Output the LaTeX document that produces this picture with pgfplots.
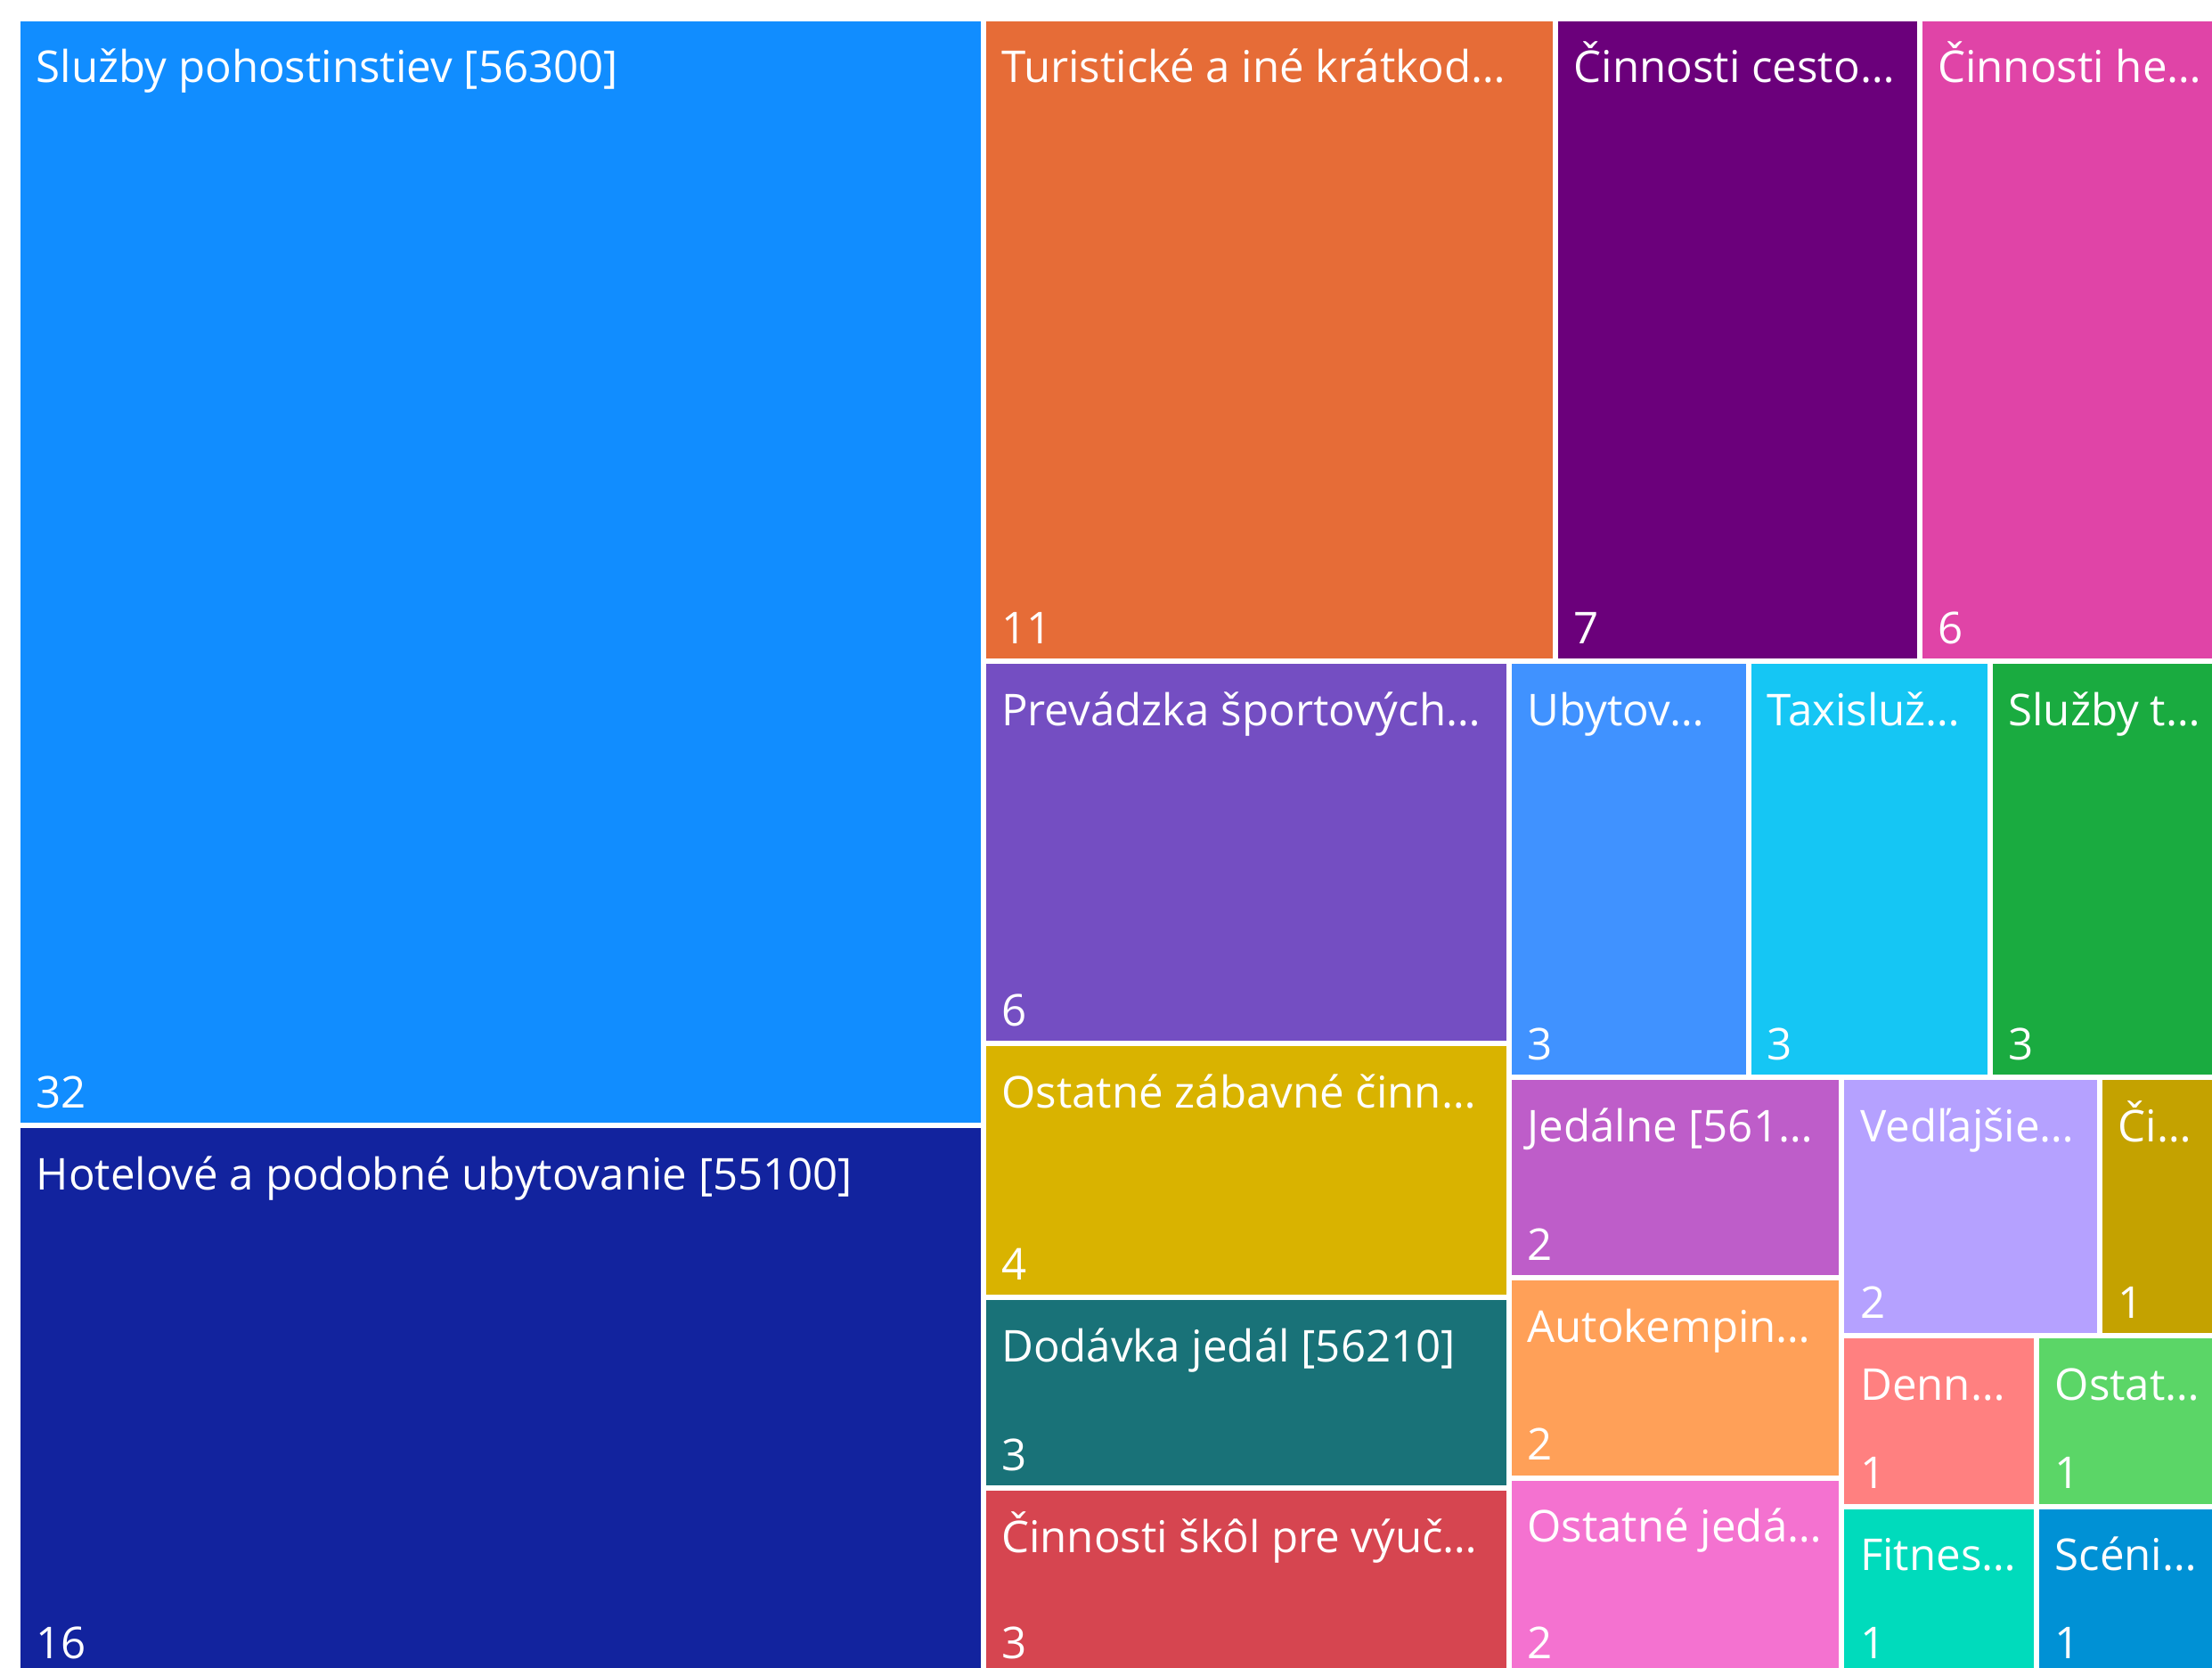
\documentclass[border=0pt]{standalone}
\usepackage{pgfplots}
\pgfplotsset{compat=1.18}
\usepackage{fontspec}
\setmainfont{Open Sans}
\definecolor{c1}{HTML}{118DFF}
\definecolor{c2}{HTML}{12239E}
\definecolor{c3}{HTML}{E66C37}
\definecolor{c4}{HTML}{6B007B}
\definecolor{c5}{HTML}{E044A7}
\definecolor{c6}{HTML}{744EC2}
\definecolor{c7}{HTML}{D9B300}
\definecolor{c8}{HTML}{197278}
\definecolor{c9}{HTML}{D64550}
\definecolor{c10}{HTML}{4092FF}
\definecolor{c11}{HTML}{15C6F4}
\definecolor{c12}{HTML}{1AAB40}
\definecolor{c13}{HTML}{BE5DC9}
\definecolor{c14}{HTML}{FFA058}
\definecolor{c15}{HTML}{F472D0}
\definecolor{c16}{HTML}{B5A1FF}
\definecolor{c17}{HTML}{C4A200}
\definecolor{c18}{HTML}{FF8080}
\definecolor{c19}{HTML}{5BD667}
\definecolor{c20}{HTML}{00DBBC}
\definecolor{c21}{HTML}{0091D5}
\tikzset{lab/.style={text=white, inner sep=0pt, font=\fontsize{14}{16}\selectfont}}
% #1 x0, #2 y0, #3 x1, #4 y1, #5 colour, #6 label, #7 value
\newcommand{\tile}[7]{%
  \addplot[fill=#5, draw=white, line width=1.71pt] coordinates {(#1,#2) (#3,#2) (#3,#4) (#1,#4)} -- cycle;
  \node[lab, anchor=base west, xshift=5.69pt, yshift=-20.48pt] at (axis cs:#1,#2) {#6};
  \node[lab, anchor=base west, xshift=5.69pt, yshift=5.69pt] at (axis cs:#1,#4) {#7};
}
\begin{document}
\begin{tikzpicture}
\begin{axis}[
  hide axis, scale only axis,
  width=706.4pt, height=532.3pt,
  xmin=0, xmax=2483, ymin=0, ymax=1871,
  y dir=reverse, clip=true,
]
\tile{20}{21}{1103.5}{1263}{c1}{Služby pohostinstiev [56300]}{32}
\tile{20}{1263}{1103.5}{1881}{c2}{Hotelové a podobné ubytovanie [55100]}{16}
\tile{1103.5}{21}{1746}{742}{c3}{Turistické a iné krátkod…}{11}
\tile{1746}{21}{2154.5}{742}{c4}{Činnosti cesto…}{7}
\tile{2154.5}{21}{2505}{742}{c5}{Činnosti he…}{6}
\tile{1103.5}{742}{1693.6}{1171}{c6}{Prevádzka športových…}{6}
\tile{1103.5}{1171}{1693.6}{1456}{c7}{Ostatné zábavné činn…}{4}
\tile{1103.5}{1456}{1693.6}{1670}{c8}{Dodávka jedál [56210]}{3}
\tile{1103.5}{1670}{1693.6}{1881}{c9}{Činnosti škôl pre výuč…}{3}
\tile{1693.6}{742}{1963}{1209}{c10}{Ubytov…}{3}
\tile{1963}{742}{2233.7}{1209}{c11}{Taxisluž…}{3}
\tile{2233.7}{742}{2505}{1209}{c12}{Služby t…}{3}
\tile{1693.6}{1209}{2067.4}{1434}{c13}{Jedálne [561…}{2}
\tile{1693.6}{1434}{2067.4}{1658.8}{c14}{Autokempin…}{2}
\tile{1693.6}{1658.8}{2067.4}{1881}{c15}{Ostatné jedá…}{2}
\tile{2067.4}{1209}{2357.2}{1499}{c16}{Vedľajšie…}{2}
\tile{2357.2}{1209}{2505}{1499}{c17}{Či…}{1}
\tile{2067.4}{1499}{2286}{1690.5}{c18}{Denn…}{1}
\tile{2286}{1499}{2505}{1690.5}{c19}{Ostat…}{1}
\tile{2067.4}{1690.5}{2286}{1881}{c20}{Fitnes…}{1}
\tile{2286}{1690.5}{2505}{1881}{c21}{Scéni…}{1}
\end{axis}
\pgfresetboundingbox
\path (current axis.south west) rectangle (current axis.north east);
\end{tikzpicture}
\end{document}
